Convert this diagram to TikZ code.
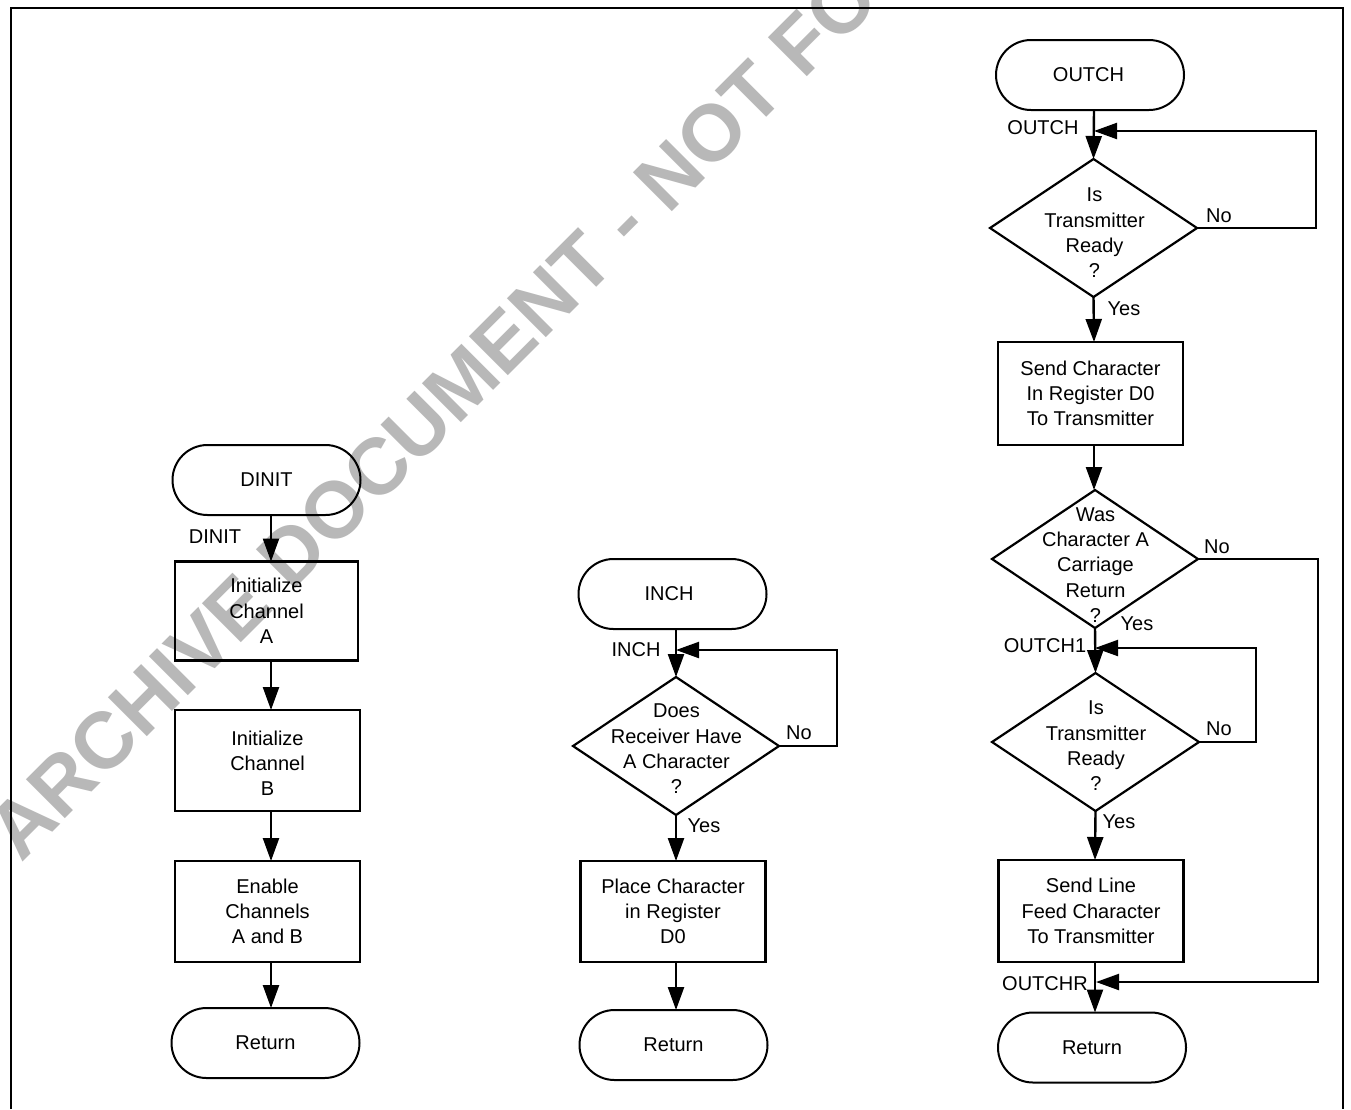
\documentclass[tikz,border=0pt]{standalone}
\usepackage{fontspec}
\setmainfont{Liberation Sans}
\usetikzlibrary{shapes.geometric,shapes.misc,arrows.meta}
\newcommand{\dtxt}[3]{\smash{\makebox[0pt]{\hspace*{#1}\raisebox{#2}{\begin{tabular}{@{}c@{}}#3\end{tabular}}}}}
\tikzset{
  every node/.style={font=\fontsize{20}{25.3}\selectfont,inner sep=0pt,outer sep=0pt},
  term/.style={draw,line width=2pt,rounded rectangle,rounded rectangle arc length=180,minimum width=188pt,minimum height=70pt,align=center},
  proc/.style={draw,line width=2.2pt,rectangle,minimum width=185pt,minimum height=101pt,align=center},
  dec/.style={draw,line width=2.2pt,diamond,minimum width=206pt,minimum height=138pt},
  side/.style={anchor=center},
  flow/.style={line width=2.4pt,-{Triangle[length=23pt,width=16pt]}},
  backflow/.style={line width=2.2pt,-{Triangle[length=23pt,width=16pt]}},
  frameline/.style={line width=2.4pt,line cap=butt},
  wm/.style={font=\fontsize{80}{80}\selectfont\bfseries,text=black!28,rotate=45,anchor=base west}
}
\begin{document}
\begin{tikzpicture}[x=1pt,y=-1pt]
\useasboundingbox (0,0) rectangle (1351,1109);
\fill[white] (0,0) rectangle (1351,1109);
\begin{scope}
\clip (0,0) rectangle (1351,1109);
\node[wm] (watermark) at (21,863) {ARCHIVE DOCUMENT - NOT FO};
\end{scope}
% frame
\coordinate (fa) at (11,1109);
\coordinate (fb) at (11,8);
\coordinate (fc) at (1343,8);
\coordinate (fd) at (1343,1109);
\draw[frameline] (fa) -- (fb) -- (fc) -- (fd);

% left column
\node[term] (dinit) at (266.5,480) {DINIT};
\node[proc,minimum height=99pt,minimum width=183pt] (ra) at (266.5,611) {Initialize\\Channel\\A};
\node[proc] (rb) at (267.5,760.5) {\dtxt{0pt}{-10pt}{Initialize\\Channel\\B}};
\node[proc] (rc) at (267.5,911.5) {Enable\\Channels\\A and B};
\node[term] (ret1) at (265.5,1043) {Return};
\node[side] (ldinit) at (215,537) {DINIT};
\coordinate (xa) at (271,0);
\draw[flow] (dinit.south -| xa) -- (ra.north -| xa);
\draw[flow] (ra.south -| xa) -- (rb.north -| xa);
\draw[flow] (rb.south -| xa) -- (rc.north -| xa);
\draw[flow] (rc.south -| xa) -- (ret1.north -| xa);

% middle column
\node[term] (inch) at (672.5,594) {\hspace*{-7pt}INCH};
\node[dec] (d0) at (676,746) {\dtxt{1pt}{-10pt}{Does\\Receiver Have\\A Character\\?}};
\node[proc] (rm) at (673,911.5) {Place Character\\in Register\\D0};
\node[term] (ret2) at (673.5,1045) {Return};
\node[side] (linch) at (636,650) {INCH};
\node[side] (ly0) at (704,826) {Yes};
\node[side] (ln0) at (799,733) {No};
\coordinate (xb) at (676,0);
\coordinate (j0) at (676,650);
\coordinate (c0b) at (837,650);
\draw[flow] (inch.south -| xb) -- (d0.north);
\draw[backflow] (d0.east) -- (d0.east -| c0b) -- (c0b) -- (j0);
\draw[flow] (d0.south) -- (rm.north -| xb);
\draw[flow] (rm.south -| xb) -- (ret2.north -| xb);

% right column
\node[term] (outch) at (1090,75) {\hspace*{-3pt}OUTCH};
\node[dec,minimum width=207pt] (d1) at (1093.5,228) {\dtxt{2pt}{-12pt}{Is\\Transmitter\\Ready\\?}};
\node[proc,minimum height=103pt] (r1) at (1090.5,393.5) {Send Character\\In Register D0\\To Transmitter};
\node[dec] (d2) at (1095,559) {\dtxt{1pt}{-13pt}{Was\\Character A\\Carriage\\Return\\?}};
\node[dec,minimum width=207pt] (d3) at (1095.5,742) {\dtxt{1pt}{-11pt}{Is\\Transmitter\\Ready\\?}};
\node[proc,minimum height=102pt] (r2) at (1091,911) {Send Line\\Feed Character\\To Transmitter};
\node[term] (ret3) at (1092,1047.5) {Return};
\node[side] (lo) at (1043,128) {OUTCH};
\node[side] (ln1) at (1219,216) {No};
\node[side] (ly1) at (1124,309) {Yes};
\node[side] (ln2) at (1217,547) {No};
\node[side] (ly2) at (1137,624) {Yes};
\node[side] (lo1) at (1045,646) {OUTCH1};
\node[side] (ln3) at (1219,729) {No};
\node[side] (ly3) at (1119,822) {Yes};
\node[side] (lor) at (1045,984) {OUTCHR};
\coordinate (xc) at (1094,0);
\coordinate (xd) at (1095,0);
\coordinate (j1) at (1094,131);
\coordinate (c1b) at (1316,131);
\coordinate (j3) at (1095,648);
\coordinate (c3b) at (1256,648);
\coordinate (jr) at (1096,982);
\coordinate (c2b) at (1318,982);
\draw[flow] (outch.south -| xc) -- (d1.north);
\draw[backflow] (d1.east) -- (d1.east -| c1b) -- (c1b) -- (j1);
\draw[flow] (d1.south) -- (r1.north -| xc);
\draw[flow] (r1.south -| xc) -- (d2.north -| xc);
\draw[flow] (d2.south) -- (d3.north);
\draw[backflow] (d3.east) -- (d3.east -| c3b) -- (c3b) -- (j3);
\draw[flow] (d3.south) -- (r2.north -| xd);
\draw[flow] (r2.south -| xd) -- (ret3.north -| xd);
\draw[backflow] (d2.east) -- (d2.east -| c2b) -- (c2b) -- (jr);
\end{tikzpicture}
\end{document}
